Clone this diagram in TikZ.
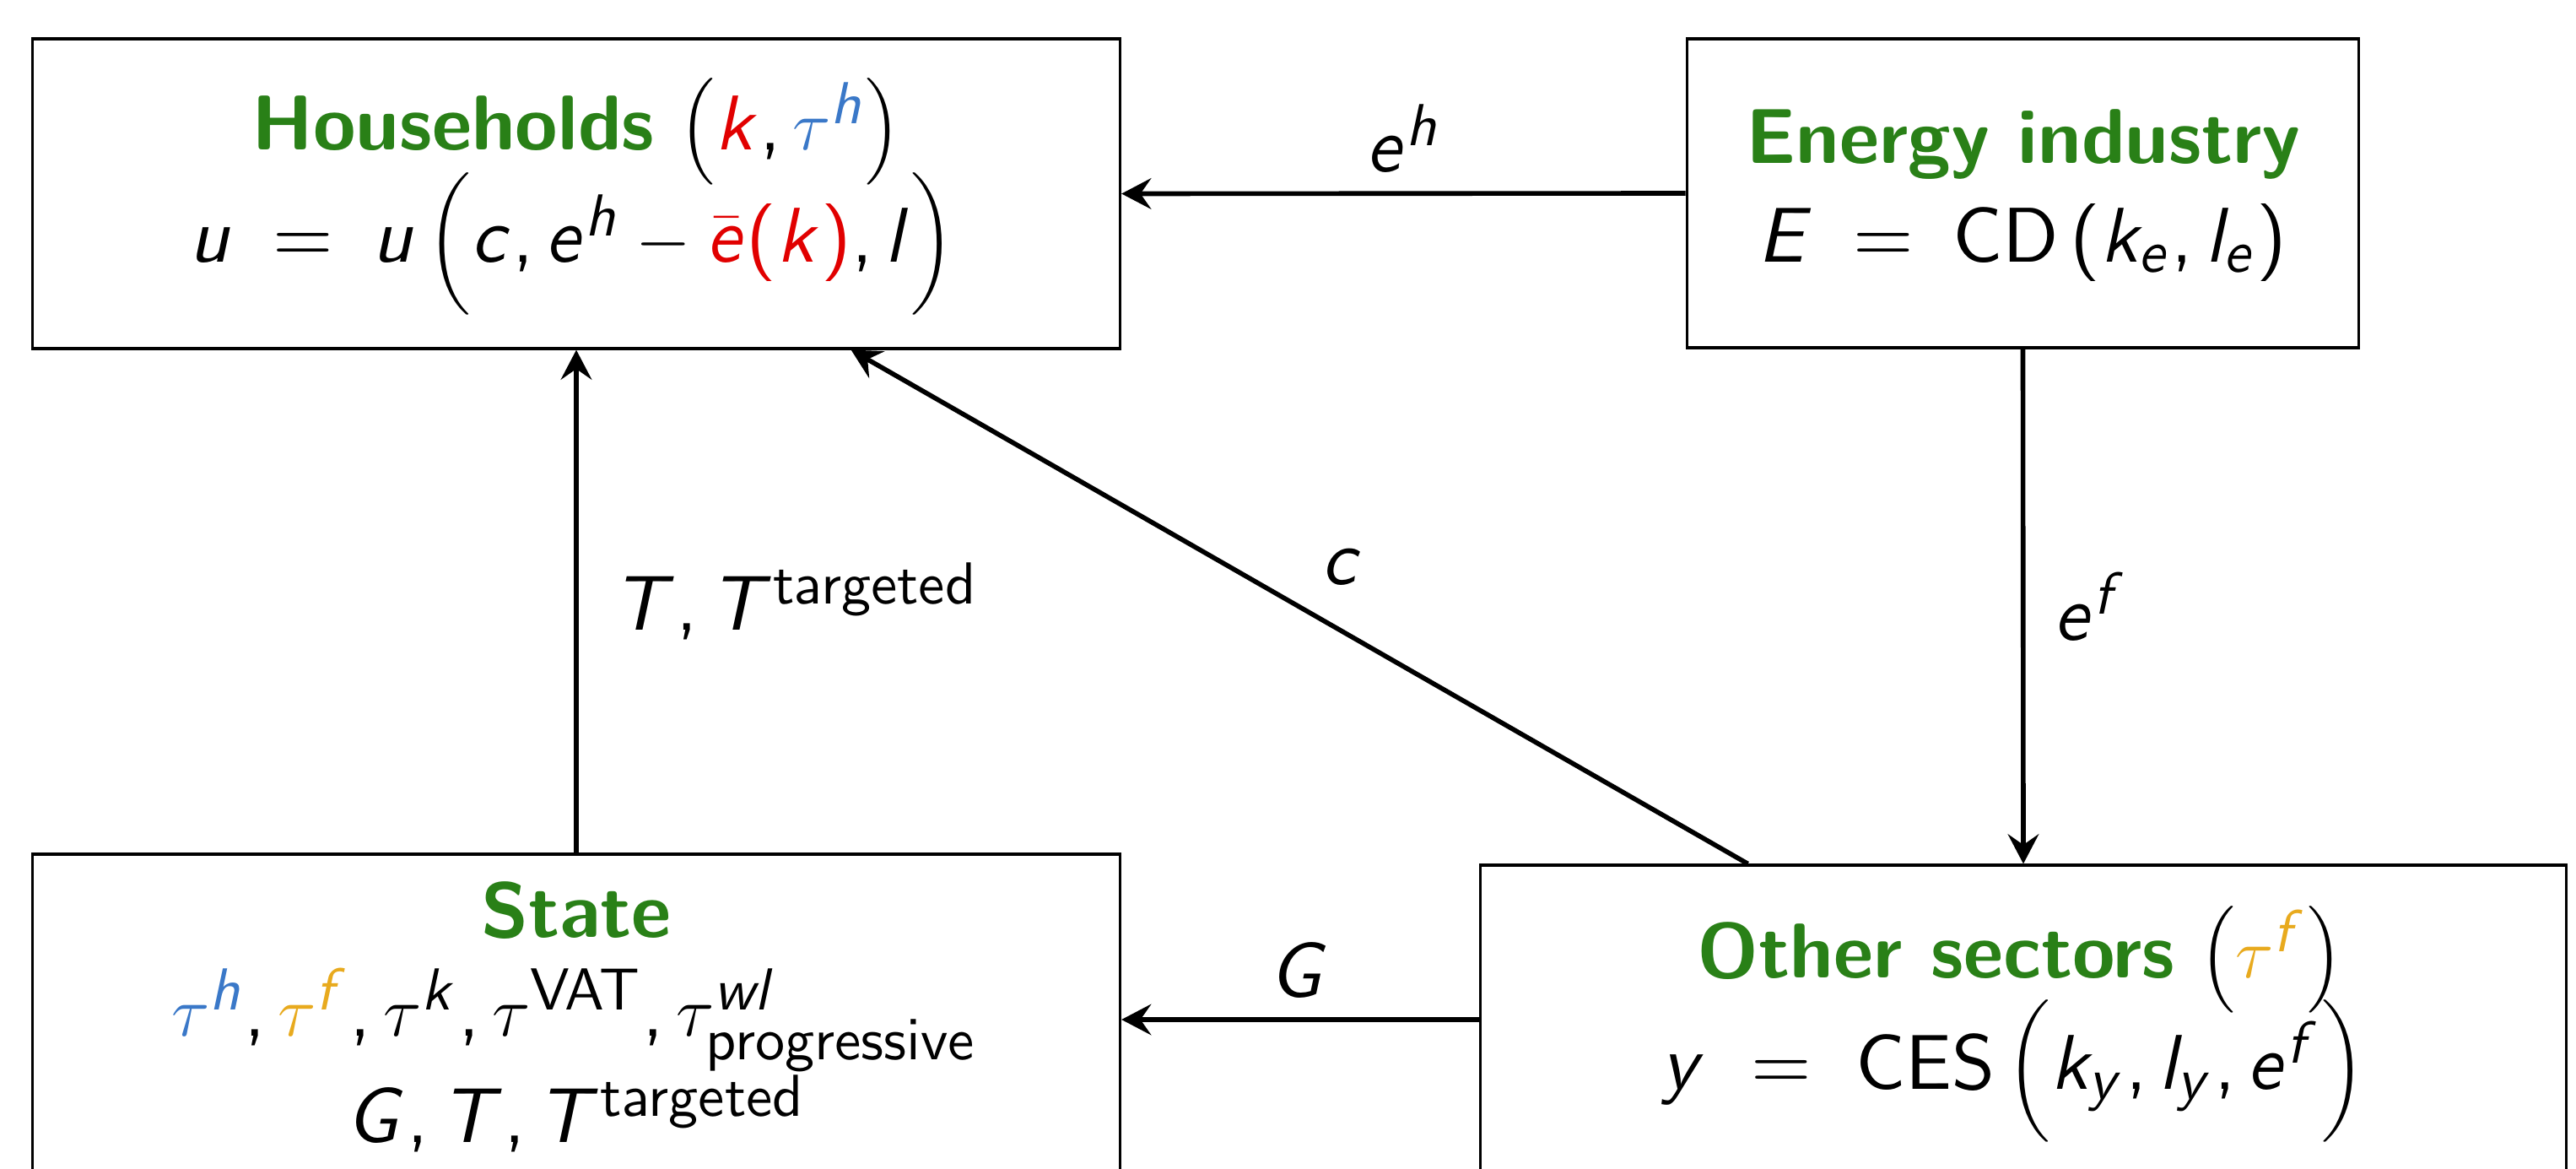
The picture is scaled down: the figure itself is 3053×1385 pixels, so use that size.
\documentclass[tikz,border=0pt]{standalone}
\usetikzlibrary{arrows.meta,calc}
\DeclareFontFamily{OT1}{mss}{}
\DeclareFontShape{OT1}{mss}{m}{n}{<-9.5> cmss8 <9.5-> cmss10}{}
\DeclareFontShape{OT1}{mss}{m}{sl}{<-9.5> cmssi8 <9.5-> cmssi10}{}
\DeclareSymbolFont{sfit}{OT1}{mss}{m}{sl}
\DeclareSymbolFont{sfup}{OT1}{mss}{m}{n}
\DeclareSymbolFontAlphabet{\mathrm}{sfup}
\DeclareMathSymbol{c}{\mathalpha}{sfit}{`c}
\DeclareMathSymbol{e}{\mathalpha}{sfit}{`e}
\DeclareMathSymbol{f}{\mathalpha}{sfit}{`f}
\DeclareMathSymbol{h}{\mathalpha}{sfit}{`h}
\DeclareMathSymbol{k}{\mathalpha}{sfit}{`k}
\DeclareMathSymbol{l}{\mathalpha}{sfit}{`l}
\DeclareMathSymbol{u}{\mathalpha}{sfit}{`u}
\DeclareMathSymbol{w}{\mathalpha}{sfit}{`w}
\DeclareMathSymbol{y}{\mathalpha}{sfit}{`y}
\DeclareMathSymbol{E}{\mathalpha}{sfit}{`E}
\DeclareMathSymbol{G}{\mathalpha}{sfit}{`G}
\DeclareMathSymbol{T}{\mathalpha}{sfit}{`T}
\DeclareMathSymbol{=}{\mathrel}{sfup}{`=}
\DeclareMathSymbol{(}{\mathopen}{sfup}{`(}
\DeclareMathSymbol{)}{\mathclose}{sfup}{`)}
\DeclareMathSymbol{,}{\mathpunct}{sfup}{`,}
\DeclareMathSizes{13.1}{13.1}{10}{7.5}
\definecolor{grn}{RGB}{41,128,23}
\definecolor{rd}{RGB}{225,0,0}
\definecolor{bl}{RGB}{58,120,200}
\definecolor{gd}{RGB}{232,170,30}
\tikzset{
  box/.style={draw=black, line width=0.5pt, inner sep=0pt, fill=white},
  txt/.style={anchor=base, inner sep=0pt, font=\sffamily\fontsize{13.1}{16}\selectfont},
  flow/.style={line width=0.8pt, -{Stealth[length=5pt,width=5.2pt,inset=1.8pt]}},
  lbl/.style={font=\sffamily\fontsize{13.1}{16}\selectfont},
}
\begin{document}
\begin{tikzpicture}[x=0.005cm,y=-0.005cm]
\useasboundingbox (0,0) rectangle (3053,1385);
\clip (0,0) rectangle (3053,1385);
\fill[white] (0,0) rectangle (3053,1385);
% boxes
\node[box, minimum width=6.45cm, minimum height=1.835cm] (hh) at (683,229.5) {};
\node[box, minimum width=3.985cm, minimum height=1.83cm] (en) at (2397.5,229) {};
\node[box, minimum width=6.45cm, minimum height=2.04cm] (st) at (683,1216) {};
\node[box, minimum width=6.44cm, minimum height=1.975cm] (ot) at (2398,1222.5) {};
% texts
\node[txt] (hh1) at (683,177) {\textbf{\color{grn}Households} $\left(\textcolor{rd}{k}, \textcolor{bl}{\tau^h}\right)$};
\node[txt] (hh2) at (678,310) {$u \;=\; u\,\biggl(c, e^h - \textcolor{rd}{\bar{e}(k)}, l\biggr)$};
\node[txt] (en1) at (2398,193) {\textbf{\color{grn}Energy industry}};
\node[txt] (en2) at (2397,310) {$E \;=\; \mathrm{CD}\,(k_e, l_e)$};
\node[txt] (st1) at (683,1110) {\textbf{\color{grn}State}};
\node[txt] (st2) at (681,1227) {$\textcolor{bl}{\tau^h}, \textcolor{gd}{\tau^f}, \tau^k, \tau^{\mathrm{VAT}}, \tau^{wl}_{\mathrm{progressive}}$};
\node[txt] (st3) at (683,1353) {$G, T, T^{\mathrm{targeted}}$};
\node[txt] (ot1) at (2394,1158) {\textbf{\color{grn}Other sectors} $\left(\textcolor{gd}{\tau^f}\right)$};
\node[txt] (ot2) at (2386,1290) {$y \ =\ \mathrm{CES}\,\biggl(k_y, l_y, e^f\biggr)$};
% connectors
\draw[flow] (en.west) -- (hh.east) node[lbl, midway, above] (lab1) {$e^h$};
\draw[flow] (st.north) -- (hh.south) node[lbl, midway, right, xshift=2.5pt] (lab2) {$T, T^{\mathrm{targeted}}$};
\draw[flow] (en.south) -- (ot.north) node[lbl, midway, right, xshift=1.5pt] (lab3) {$e^f$};
\coordinate (gfrom) at (ot.west |- 0,1208);
\coordinate (gto) at (st.east |- 0,1208);
\draw[flow] (gfrom) -- (gto) node[lbl, midway, above] (lab4) {$G$};
\coordinate (cfrom) at ($(ot.north west)!0.247!(ot.north east)$);
\coordinate (cto) at ($(hh.south west)!0.752!(hh.south east)$);
\draw[flow] (cfrom) -- (cto) node[lbl, midway, above right] (lab5) {$c$};
\end{tikzpicture}
\end{document}
